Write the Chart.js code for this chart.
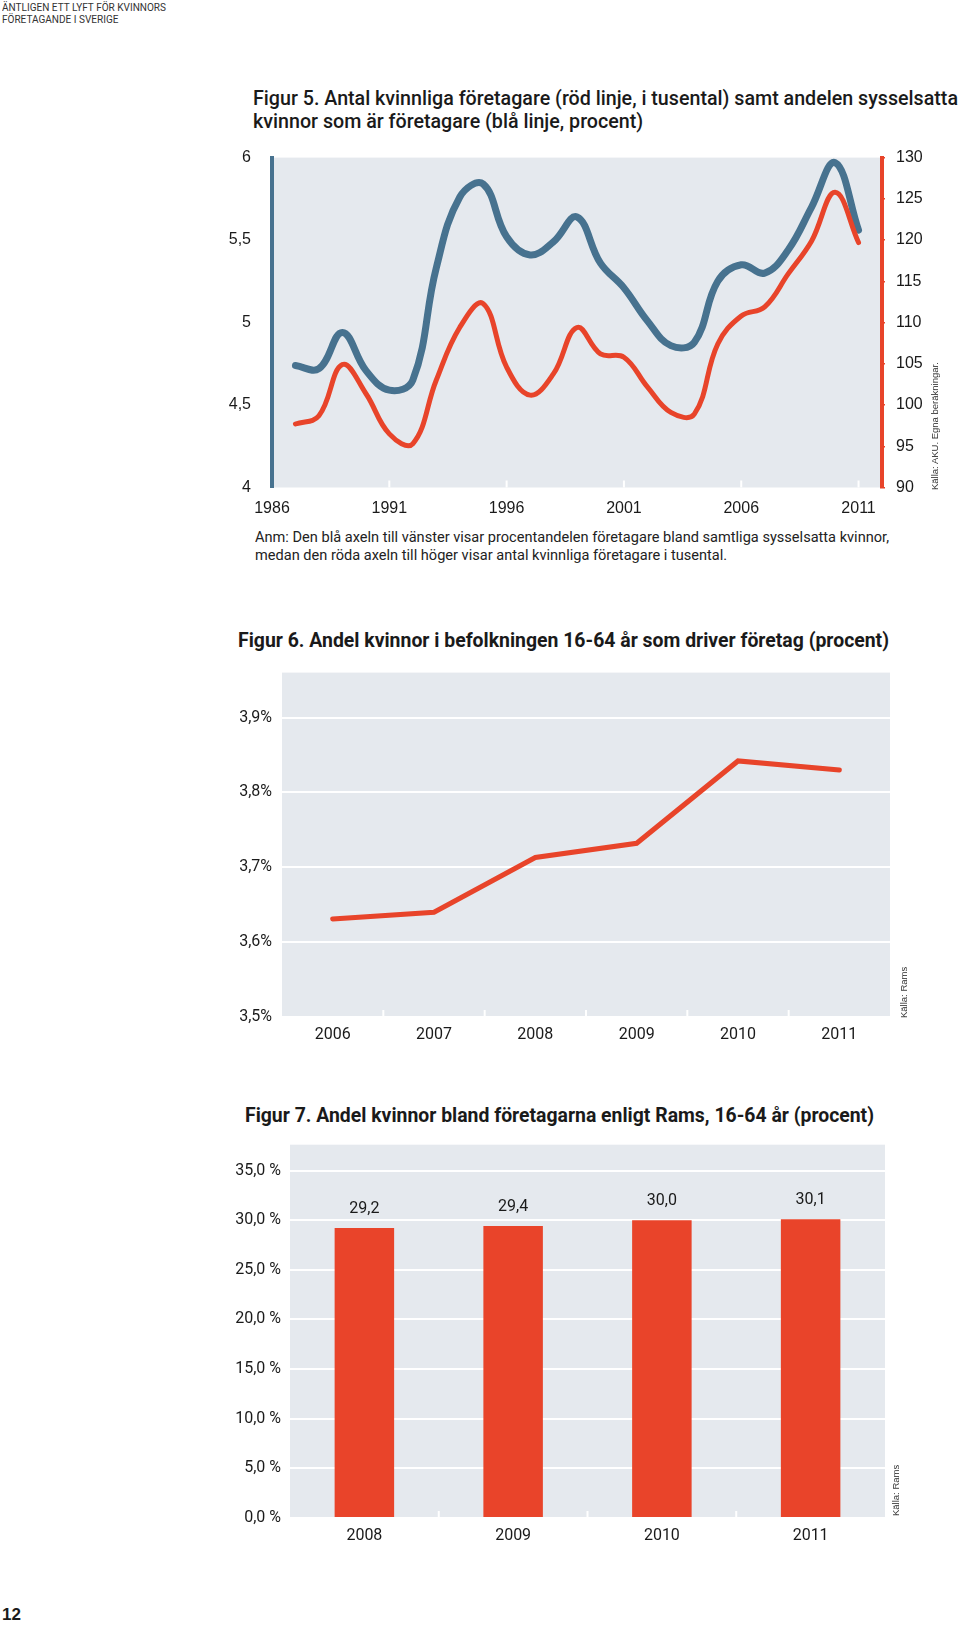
<!DOCTYPE html>
<html>
<head>
<meta charset="utf-8">
<script src="https://cdn.jsdelivr.net/npm/chart.js@4/dist/chart.umd.min.js"></script>
<style>
  html, body { margin: 0; padding: 0; background: #fff; }
  #page { position: relative; width: 960px; height: 1627px; overflow: hidden; font-family: Roboto, 'Liberation Sans', sans-serif; color: #1a1a1a; }
  .abs { position: absolute; white-space: nowrap; }
  .fit { display: inline-block; transform-origin: 0 0; }
  .hdr { font-size: 11.5px; line-height: 12px; color: #333; left: 2px; }
  .title { font-weight: bold; font-size: 20px; line-height: 23px; }
  .title5 { font-weight: 500; }
  .note { font-size: 14.5px; line-height: 17.5px; color: #222; }
  .src { font-family: 'Liberation Sans', sans-serif; font-size: 9.5px; color: #333; transform-origin: 0 0; transform: rotate(-90deg); }
  canvas { position: absolute; }
</style>
</head>
<body>
<div id="page">
  <div class="abs hdr" style="top:1px;"><span class="fit" data-w="164">ÄNTLIGEN ETT LYFT FÖR KVINNORS<br>FÖRETAGANDE I SVERIGE</span></div>

  <div class="abs title title5" style="left:253px; top:87px;"><span class="fit" data-w="705">Figur 5. Antal kvinnliga företagare (röd linje, i tusental) samt andelen sysselsatta<br>kvinnor som är företagare (blå linje, procent)</span></div>
  <div style="position:absolute; left:200px; top:134.5px; width:760px; height:385.5px;"><canvas id="c5"></canvas></div>
  <div class="abs src" style="left:929px; top:490px;">Källa: AKU. Egna beräkningar.</div>
  <div class="abs note" style="left:255px; top:529px;"><span class="fit" data-w="634">Anm: Den blå axeln till vänster visar procentandelen företagare bland samtliga sysselsatta kvinnor,<br>medan den röda axeln till höger visar antal kvinnliga företagare i tusental.</span></div>

  <div class="abs title" style="left:238px; top:629px;"><span class="fit" data-w="651">Figur 6. Andel kvinnor i befolkningen 16-64 år som driver företag (procent)</span></div>
  <div style="position:absolute; left:200px; top:650px; width:760px; height:410px;"><canvas id="c6"></canvas></div>
  <div class="abs src" style="left:898px; top:1018px;">Källa: Rams</div>

  <div class="abs title" style="left:245px; top:1104px;"><span class="fit" data-w="629">Figur 7. Andel kvinnor bland företagarna enligt Rams, 16-64 år (procent)</span></div>
  <div style="position:absolute; left:200px; top:1120px; width:760px; height:440px;"><canvas id="c7"></canvas></div>
  <div class="abs src" style="left:890px; top:1516px;">Källa: Rams</div>

  <div class="abs" style="left:2px; top:1605px; font-family:'Liberation Sans', sans-serif; font-weight:bold; font-size:17px;">12</div>
</div>
<script>
// ---------- Data ----------
const years5 = [1987,1988,1989,1990,1991,1992,1993,1994,1995,1996,1997,1998,1999,2000,2001,2002,2003,2004,2005,2006,2007,2008,2009,2010,2011];
const shareSelfEmployed = [4.74,4.72,4.94,4.71,4.59,4.65,5.33,5.76,5.84,5.52,5.41,5.49,5.64,5.36,5.21,5.01,4.86,4.88,5.25,5.35,5.30,5.44,5.70,5.97,5.56];
const womenEntrepreneurs = [97.7,98.7,104.9,101.4,96.5,95.3,103.0,109.4,112.3,104.6,101.2,103.8,109.4,106.2,105.8,102.2,99.1,98.9,107.4,110.8,111.9,115.9,119.9,125.8,119.7];
const xTicks5 = [1986,1991,1996,2001,2006,2011];
const leftTicks5 = [4,4.5,5,5.5,6];
const rightTicks5 = [90,95,100,105,110,115,120,125,130];

const years6 = ['2006','2007','2008','2009','2010','2011'];
const share6 = [3.631,3.640,3.713,3.732,3.842,3.830];
const yTicks6 = [3.5,3.6,3.7,3.8,3.9];

const years7 = ['2008','2009','2010','2011'];
const share7 = [29.2,29.4,30.0,30.1];
const yTicks7 = [0,5,10,15,20,25,30,35];

// ---------- Text fitting ----------
document.querySelectorAll('.fit').forEach(el => {
  const w = el.getBoundingClientRect().width;
  const target = parseFloat(el.dataset.w);
  el.style.transform = 'scaleX(' + (target / w) + ')';
});

// ---------- Styles ----------
const BG = '#e5e9ee';
const BLUE = '#47728f';
const RED = '#e8442a';
const BAR = '#e9442a';
const TICKFONT = {family: "'Liberation Sans', sans-serif", size: 16};
const CONDFONT = {family: "Roboto, 'Liberation Sans', sans-serif", size: 16};
const fmt = (v, d) => v.toFixed(d).replace('.', ',');

const bgPlugin = {
  id: 'bg',
  beforeDraw(chart) {
    const a = chart.chartArea, ctx = chart.ctx;
    ctx.save(); ctx.fillStyle = BG; ctx.fillRect(a.left, a.top, a.right - a.left, a.bottom - a.top); ctx.restore();
  }
};
function whiteTicks(positionsFn) {
  return {
    id: 'wticks',
    beforeDatasetsDraw(chart) {
      const a = chart.chartArea, ctx = chart.ctx;
      ctx.save(); ctx.strokeStyle = '#ffffff'; ctx.lineWidth = 2;
      positionsFn(chart).forEach(x => { ctx.beginPath(); ctx.moveTo(x, a.bottom); ctx.lineTo(x, a.bottom - 7); ctx.stroke(); });
      ctx.restore();
    }
  };
}
function catBoundaries(chart) {
  const s = chart.scales.x, n = s.ticks.length, out = [];
  for (let i = 0; i < n - 1; i++) out.push((s.getPixelForValue(i) + s.getPixelForValue(i + 1)) / 2);
  return out;
}

// ---------- Figure 5 ----------
new Chart(document.getElementById('c5'), {
  type: 'line',
  data: {
    datasets: [
      { data: years5.map((y, i) => ({x: y, y: womenEntrepreneurs[i]})), yAxisID: 'y2', borderColor: RED, borderWidth: 5, tension: 0.4, pointRadius: 0, borderCapStyle: 'round', borderJoinStyle: 'round' },
      { data: years5.map((y, i) => ({x: y, y: shareSelfEmployed[i]})), yAxisID: 'y', borderColor: BLUE, borderWidth: 7, tension: 0.4, pointRadius: 0, borderCapStyle: 'round', borderJoinStyle: 'round' }
    ]
  },
  options: {
    responsive: true, maintainAspectRatio: false, animation: false,
    layout: { padding: { top: 11.5 } },
    plugins: { legend: { display: false }, tooltip: { enabled: false } },
    scales: {
      x: {
        type: 'linear', min: 1986, max: 2012,
        afterBuildTicks: s => { s.ticks = xTicks5.map(v => ({value: v})); },
        afterFit: s => { s.height = 33; },
        grid: { display: false }, border: { display: false },
        ticks: { font: TICKFONT, color: '#1a1a1a', padding: 3, maxRotation: 0, callback: v => String(v) }
      },
      y: {
        position: 'left', min: 4, max: 6,
        afterBuildTicks: s => { s.ticks = leftTicks5.map(v => ({value: v})); },
        afterFit: s => { s.width = 72; },
        grid: { display: false }, border: { color: BLUE, width: 4 },
        ticks: { font: TICKFONT, color: '#1a1a1a', padding: 13, callback: v => String(v).replace('.', ',') }
      },
      y2: {
        position: 'right', min: 90, max: 130,
        afterBuildTicks: s => { s.ticks = rightTicks5.map(v => ({value: v})); },
        afterFit: s => { s.width = 78; },
        grid: { drawOnChartArea: false, drawTicks: true, tickLength: 3, color: RED, lineWidth: 1.5 },
        border: { color: RED, width: 4 },
        ticks: { font: TICKFONT, color: '#1a1a1a', padding: 11, callback: v => String(v) }
      }
    }
  },
  plugins: [bgPlugin, whiteTicks(ch => xTicks5.slice(1).map(v => ch.scales.x.getPixelForValue(v)))]
});

// ---------- Figure 6 ----------
new Chart(document.getElementById('c6'), {
  type: 'line',
  data: { labels: years6, datasets: [{ data: share6, borderColor: RED, borderWidth: 5, tension: 0, pointRadius: 0, borderCapStyle: 'round' }] },
  options: {
    responsive: true, maintainAspectRatio: false, animation: false,
    layout: { padding: { top: 22.6, right: 70 } },
    plugins: { legend: { display: false }, tooltip: { enabled: false } },
    scales: {
      x: {
        offset: true, afterFit: s => { s.height = 43; },
        grid: { display: false }, border: { display: false },
        ticks: { font: CONDFONT, color: '#1a1a1a', padding: 0 }
      },
      y: {
        min: 3.5, max: 3.96,
        afterBuildTicks: s => { s.ticks = yTicks6.map(v => ({value: v})); },
        afterFit: s => { s.width = 82; },
        grid: { color: '#ffffff', lineWidth: 2, drawTicks: false }, border: { display: false },
        ticks: { font: CONDFONT, color: '#1a1a1a', padding: 10, callback: v => fmt(v, 1) + '%' }
      }
    }
  },
  plugins: [bgPlugin, whiteTicks(catBoundaries)]
});

// ---------- Figure 7 ----------
const barLabels = {
  id: 'barLabels',
  afterDatasetsDraw(chart) {
    const ctx = chart.ctx, meta = chart.getDatasetMeta(0);
    ctx.save(); ctx.font = "16px Roboto, 'Liberation Sans', sans-serif"; ctx.fillStyle = '#1a1a1a';
    ctx.textAlign = 'center'; ctx.textBaseline = 'middle';
    meta.data.forEach((el, i) => ctx.fillText(fmt(share7[i], 1), el.x, el.y - 19));
    ctx.restore();
  }
};
new Chart(document.getElementById('c7'), {
  type: 'bar',
  data: { labels: years7, datasets: [{ data: share7, backgroundColor: BAR, barPercentage: 0.4, categoryPercentage: 1.0 }] },
  options: {
    responsive: true, maintainAspectRatio: false, animation: false,
    layout: { padding: { top: 24.7, right: 75 } },
    plugins: { legend: { display: false }, tooltip: { enabled: false } },
    scales: {
      x: {
        afterFit: s => { s.height = 42; },
        grid: { display: false }, border: { display: false },
        ticks: { font: CONDFONT, color: '#1a1a1a', padding: 0 }
      },
      y: {
        min: 0, max: 37.6,
        afterBuildTicks: s => { s.ticks = yTicks7.map(v => ({value: v})); },
        afterFit: s => { s.width = 90; },
        grid: { color: '#ffffff', lineWidth: 2, drawTicks: false }, border: { display: false },
        ticks: { font: CONDFONT, color: '#1a1a1a', padding: 9, callback: v => fmt(v, 1) + ' %' }
      }
    }
  },
  plugins: [bgPlugin, whiteTicks(catBoundaries), barLabels]
});
</script>
</body>
</html>
